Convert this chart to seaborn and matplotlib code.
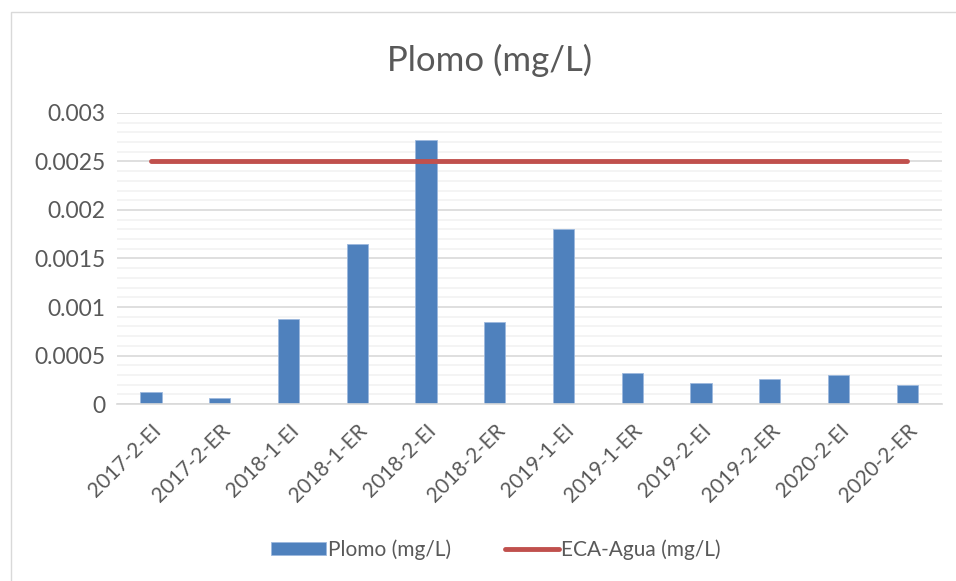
import numpy as np
import pandas as pd
import seaborn as sns
import matplotlib.pyplot as plt
from matplotlib.patches import Rectangle
from matplotlib.ticker import MultipleLocator, FuncFormatter

# Datos del gráfico
campanas = ['2017-2-EI', '2017-2-ER', '2018-1-EI', '2018-1-ER', '2018-2-EI', '2018-2-ER',
            '2019-1-EI', '2019-1-ER', '2019-2-EI', '2019-2-ER', '2020-2-EI', '2020-2-ER']
plomo = [0.00012, 0.00006, 0.00088, 0.00165, 0.00272, 0.00085,
         0.0018, 0.00032, 0.00022, 0.00026, 0.0003, 0.0002]
eca_agua = [0.0025] * len(campanas)

df = pd.DataFrame({'campana': campanas, 'plomo': plomo, 'eca': eca_agua})

sns.set_theme(style="white")
plt.rcParams['font.family'] = ['Liberation Sans Narrow', 'Lato', 'DejaVu Sans']

fig = plt.figure(figsize=(9.56, 5.81), dpi=100)
ax = fig.add_axes([0.122, 0.3046, 0.863, 0.501])

# borde exterior del gráfico
fig.patches.append(Rectangle((0.012, -0.01), 1.0, 0.99, transform=fig.transFigure,
                             fill=False, edgecolor='#D9D9D9', linewidth=1))

sns.barplot(data=df, x='campana', y='plomo', color='#4F81BD', width=0.31,
            edgecolor='#9DB9DD', linewidth=0.6, saturation=1, ax=ax, label='Plomo (mg/L)')
sns.lineplot(data=df, x='campana', y='eca', color='#C0504D', linewidth=3.5,
             solid_capstyle='round', ax=ax, label='ECA-Agua (mg/L)')

ax.set_ylim(0, 0.003)
ax.set_xlim(-0.5, len(campanas) - 0.5)
ax.yaxis.set_major_locator(MultipleLocator(0.0005))
ax.yaxis.set_minor_locator(MultipleLocator(0.0001))
ax.yaxis.set_major_formatter(FuncFormatter(lambda v, p: '0' if abs(v) < 1e-9 else f'{v:.4f}'.rstrip('0')))
ax.grid(which='major', axis='y', color='#D9D9D9', linewidth=1.2)
ax.grid(which='minor', axis='y', color='#F2F2F2', linewidth=1.2)
ax.set_axisbelow(True)
sns.despine(ax=ax, left=True, top=True, right=True)
ax.spines['bottom'].set_color('#D9D9D9')
ax.spines['bottom'].set_linewidth(1.2)

ax.tick_params(axis='y', which='both', labelsize=16.5, colors='#595959', length=0, pad=8)
ax.tick_params(axis='x', labelsize=15, colors='#595959', length=0, pad=12)
plt.setp(ax.get_xticklabels(), rotation=45, ha='right', rotation_mode='anchor')
ax.set_xlabel('')
ax.set_ylabel('')

fig.suptitle('Plomo (mg/L)', x=0.512, y=0.925, fontsize=25, color='#595959')

# leyenda: barra primero, luego la línea
handles, labels = ax.get_legend_handles_labels()
order = [labels.index('Plomo (mg/L)'), labels.index('ECA-Agua (mg/L)')]
ax.legend([handles[i] for i in order], [labels[i] for i in order],
          loc='center', bbox_to_anchor=(0.46, -0.5), ncol=2, frameon=False,
          fontsize=15, labelcolor='#595959', handlelength=2.6, handleheight=0.6,
          handletextpad=0.1, columnspacing=2.6)

plt.savefig('out.png', dpi=100)
